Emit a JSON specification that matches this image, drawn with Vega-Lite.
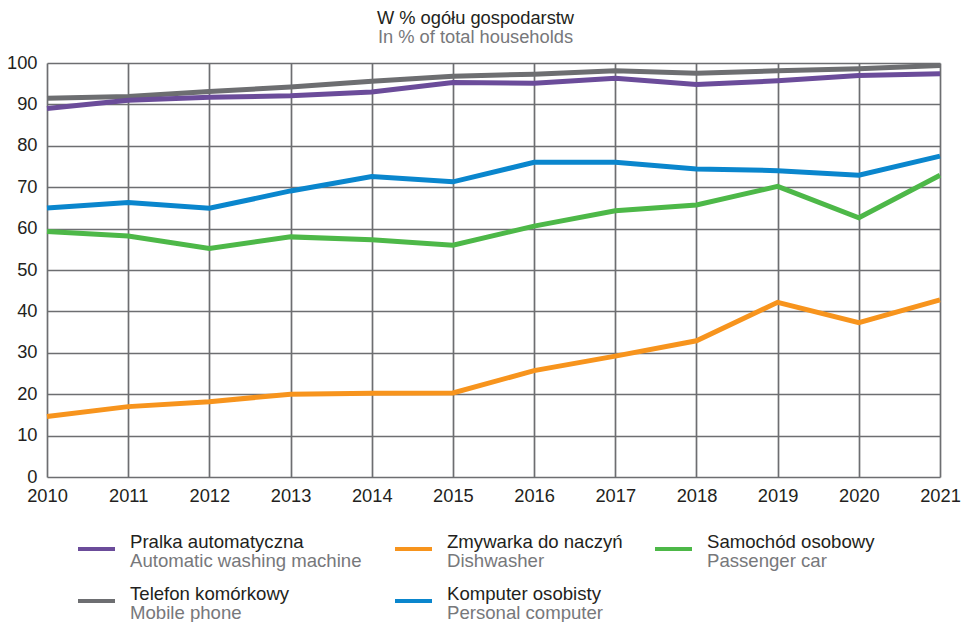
{
  "$schema": "https://vega.github.io/schema/vega-lite/v6.json",
  "width": 893,
  "height": 414,
  "autosize": {"type": "none"},
  "padding": {"left": 47, "top": 63, "right": 26, "bottom": 145},
  "background": "white",
  "title": {
    "text": "W % ogółu gospodarstw",
    "subtitle": "In % of total households",
    "anchor": "middle",
    "frame": "group",
    "dx": -18,
    "font": "Liberation Sans",
    "subtitleFont": "Liberation Sans",
    "fontSize": 18.3,
    "subtitleFontSize": 18.3,
    "fontWeight": "normal",
    "color": "#231f20",
    "subtitleColor": "#77787b",
    "offset": 6,
    "subtitlePadding": 0.7
  },
  "config": {
    "view": {"stroke": null},
    "axis": {
      "domain": false,
      "ticks": false,
      "grid": true,
      "gridColor": "#6d6e71",
      "gridWidth": 1.7,
      "gridOpacity": 1,
      "labelFont": "Liberation Sans",
      "labelFontSize": 18.3,
      "labelColor": "#231f20",
      "labelPadding": 10,
      "labelFlush": false,
      "labelOverlap": false,
      "title": null
    }
  },
  "layer": [
    {
      "data": {
        "values": [
          {"year": 2010, "series": "Telefon komórkowy", "value": 91.5},
          {"year": 2011, "series": "Telefon komórkowy", "value": 91.9},
          {"year": 2012, "series": "Telefon komórkowy", "value": 93.1},
          {"year": 2013, "series": "Telefon komórkowy", "value": 94.2},
          {"year": 2014, "series": "Telefon komórkowy", "value": 95.6},
          {"year": 2015, "series": "Telefon komórkowy", "value": 96.8},
          {"year": 2016, "series": "Telefon komórkowy", "value": 97.3},
          {"year": 2017, "series": "Telefon komórkowy", "value": 98.1},
          {"year": 2018, "series": "Telefon komórkowy", "value": 97.5},
          {"year": 2019, "series": "Telefon komórkowy", "value": 98.1},
          {"year": 2020, "series": "Telefon komórkowy", "value": 98.6},
          {"year": 2021, "series": "Telefon komórkowy", "value": 99.4},
          {"year": 2010, "series": "Pralka automatyczna", "value": 89.0},
          {"year": 2011, "series": "Pralka automatyczna", "value": 91.0},
          {"year": 2012, "series": "Pralka automatyczna", "value": 91.7},
          {"year": 2013, "series": "Pralka automatyczna", "value": 92.1},
          {"year": 2014, "series": "Pralka automatyczna", "value": 93.0},
          {"year": 2015, "series": "Pralka automatyczna", "value": 95.3},
          {"year": 2016, "series": "Pralka automatyczna", "value": 95.1},
          {"year": 2017, "series": "Pralka automatyczna", "value": 96.3},
          {"year": 2018, "series": "Pralka automatyczna", "value": 94.8},
          {"year": 2019, "series": "Pralka automatyczna", "value": 95.7},
          {"year": 2020, "series": "Pralka automatyczna", "value": 97.0},
          {"year": 2021, "series": "Pralka automatyczna", "value": 97.4},
          {"year": 2010, "series": "Komputer osobisty", "value": 65.0},
          {"year": 2011, "series": "Komputer osobisty", "value": 66.3},
          {"year": 2012, "series": "Komputer osobisty", "value": 64.9},
          {"year": 2013, "series": "Komputer osobisty", "value": 69.1},
          {"year": 2014, "series": "Komputer osobisty", "value": 72.6},
          {"year": 2015, "series": "Komputer osobisty", "value": 71.3},
          {"year": 2016, "series": "Komputer osobisty", "value": 76.0},
          {"year": 2017, "series": "Komputer osobisty", "value": 76.0},
          {"year": 2018, "series": "Komputer osobisty", "value": 74.4},
          {"year": 2019, "series": "Komputer osobisty", "value": 74.0},
          {"year": 2020, "series": "Komputer osobisty", "value": 72.9},
          {"year": 2021, "series": "Komputer osobisty", "value": 77.5},
          {"year": 2010, "series": "Samochód osobowy", "value": 59.3},
          {"year": 2011, "series": "Samochód osobowy", "value": 58.2},
          {"year": 2012, "series": "Samochód osobowy", "value": 55.2},
          {"year": 2013, "series": "Samochód osobowy", "value": 58.0},
          {"year": 2014, "series": "Samochód osobowy", "value": 57.3},
          {"year": 2015, "series": "Samochód osobowy", "value": 56.0},
          {"year": 2016, "series": "Samochód osobowy", "value": 60.6},
          {"year": 2017, "series": "Samochód osobowy", "value": 64.3},
          {"year": 2018, "series": "Samochód osobowy", "value": 65.7},
          {"year": 2019, "series": "Samochód osobowy", "value": 70.2},
          {"year": 2020, "series": "Samochód osobowy", "value": 62.6},
          {"year": 2021, "series": "Samochód osobowy", "value": 72.9},
          {"year": 2010, "series": "Zmywarka do naczyń", "value": 14.6},
          {"year": 2011, "series": "Zmywarka do naczyń", "value": 17.0},
          {"year": 2012, "series": "Zmywarka do naczyń", "value": 18.2},
          {"year": 2013, "series": "Zmywarka do naczyń", "value": 20.0},
          {"year": 2014, "series": "Zmywarka do naczyń", "value": 20.2},
          {"year": 2015, "series": "Zmywarka do naczyń", "value": 20.3},
          {"year": 2016, "series": "Zmywarka do naczyń", "value": 25.7},
          {"year": 2017, "series": "Zmywarka do naczyń", "value": 29.2},
          {"year": 2018, "series": "Zmywarka do naczyń", "value": 32.9},
          {"year": 2019, "series": "Zmywarka do naczyń", "value": 42.2},
          {"year": 2020, "series": "Zmywarka do naczyń", "value": 37.3},
          {"year": 2021, "series": "Zmywarka do naczyń", "value": 42.8}
        ]
      },
      "mark": {"type": "line", "strokeWidth": 5, "strokeCap": "butt", "strokeJoin": "miter"},
      "encoding": {
        "x": {
          "field": "year",
          "type": "quantitative",
          "scale": {"domain": [2010, 2021], "nice": false, "zero": false},
          "axis": {"values": [2010, 2011, 2012, 2013, 2014, 2015, 2016, 2017, 2018, 2019, 2020, 2021], "format": "d"}
        },
        "y": {
          "field": "value",
          "type": "quantitative",
          "scale": {"domain": [0, 100], "nice": false},
          "axis": {"values": [0, 10, 20, 30, 40, 50, 60, 70, 80, 90, 100]}
        },
        "color": {
          "field": "series",
          "type": "nominal",
          "scale": {
            "domain": ["Pralka automatyczna", "Zmywarka do naczyń", "Samochód osobowy", "Telefon komórkowy", "Komputer osobisty"],
            "range": ["#6b4c9a", "#f7941d", "#4db848", "#6d6e71", "#0a86cd"]
          },
          "legend": null
        }
      }
    },
    {
      "data": {
        "values": [
          {"series": "Pralka automatyczna", "en": "Automatic washing machine", "col": 1, "row": 1},
          {"series": "Zmywarka do naczyń", "en": "Dishwasher", "col": 2, "row": 1},
          {"series": "Samochód osobowy", "en": "Passenger car", "col": 3, "row": 1},
          {"series": "Telefon komórkowy", "en": "Mobile phone", "col": 1, "row": 2},
          {"series": "Komputer osobisty", "en": "Personal computer", "col": 2, "row": 2}
        ]
      },
      "encoding": {
        "x": {"field": "col", "type": "quantitative", "scale": {"domain": [1, 2, 3], "range": [31, 348, 608], "nice": false, "zero": false}, "axis": null},
        "y": {"field": "row", "type": "quantitative", "scale": {"domain": [1, 2], "range": [486, 538], "nice": false, "zero": false}, "axis": null}
      },
      "layer": [
        {
          "mark": {"type": "point", "shape": "M0,-0.11H2V0.11H0Z", "filled": true, "size": 1369, "opacity": 1, "strokeWidth": 0},
          "encoding": {
            "color": {"field": "series", "type": "nominal", "legend": null}
          }
        },
        {
          "mark": {"type": "text", "align": "left", "baseline": "alphabetic", "dx": 52, "dy": -1, "font": "Liberation Sans", "fontSize": 18.6, "color": "#231f20"},
          "encoding": {"text": {"field": "series"}}
        },
        {
          "mark": {"type": "text", "align": "left", "baseline": "alphabetic", "dx": 52, "dy": 17.5, "font": "Liberation Sans", "fontSize": 18.6, "color": "#77787b"},
          "encoding": {"text": {"field": "en"}}
        }
      ]
    }
  ],
  "resolve": {"scale": {"x": "independent", "y": "independent"}}
}
